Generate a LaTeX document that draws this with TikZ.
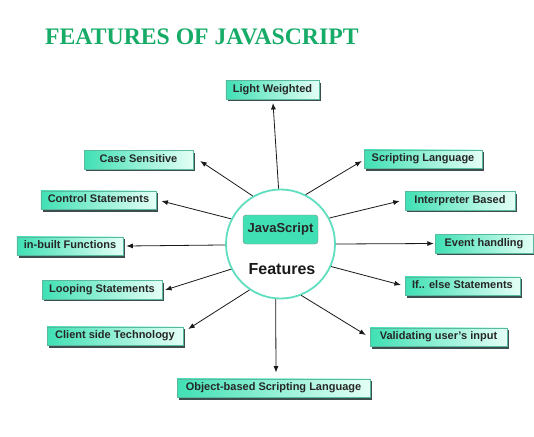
\documentclass[tikz,border=0pt]{standalone}
\usepackage{fontspec}
\setmainfont{Liberation Sans}
\newfontfamily\titlefont{Liberation Serif}
\usetikzlibrary{shadows,arrows.meta,calc}
\definecolor{jsteal}{RGB}{64,224,180}
\definecolor{jspale}{RGB}{228,255,246}
\definecolor{ringc}{RGB}{95,222,192}
\definecolor{titlegreen}{RGB}{22,172,104}
\definecolor{shadowc}{RGB}{60,78,78}
\begin{document}
\begin{tikzpicture}[x=1pt,y=-1pt,
  feat/.style={draw=jsteal!60!gray, line width=0.4pt, left color=jsteal, right color=jspale,
    font=\bfseries\fontsize{11}{13}\selectfont, text=black!85, minimum height=18.5pt,
    inner xsep=7pt, inner ysep=0pt, text height=8pt, text depth=2.3pt,
    drop shadow={shadow xshift=2.2pt, shadow yshift=-2.4pt, fill=shadowc, opacity=1}},
  arr/.style={-{Latex[length=6.5pt,width=5pt]}, line width=0.8pt, black!90}]
\useasboundingbox (0,0) rectangle (534,436);
\fill[white] (0,0) rectangle (534,436);
\node[anchor=base west, font=\titlefont\bfseries\fontsize{23.7}{27}\selectfont, text=titlegreen, inner sep=0] (title) at (45,45) {FEATURES OF JAVASCRIPT};

\node[circle, draw=ringc, line width=1.8pt, fill=white, minimum size=109pt, inner sep=0] (c) at (280.5,244) {};
\node[draw=black!45, fill=jsteal, rounded corners=3pt, minimum width=75pt, minimum height=29pt, inner sep=1pt, font=\bfseries\fontsize{13}{15}\selectfont, text=black!85] (js) at (280.5,229.5) {JavaScript};
\node[font=\bfseries\fontsize{16}{18}\selectfont, text=black!90] (ft) at (282,269) {Features};

\node[feat, minimum width=93pt] (lw) at (272.5,89.5) {Light Weighted};
\node[feat, minimum width=109pt] (cs) at (138.5,159.5) {Case Sensitive};
\node[feat, minimum width=111pt] (ctl) at (98.5,200) {Control Statements};
\node[feat, minimum width=102pt] (inb) at (70,246) {in-built Functions};
\node[feat, minimum width=116pt] (loop) at (102,289.5) {Looping Statements};
\node[feat, minimum width=136pt] (cli) at (115,336) {Client side Technology};
\node[feat, minimum width=193pt] (obj) at (273.5,388) {Object-based Scripting Language};
\node[feat, minimum width=137pt] (val) at (438.5,337) {Validating user's input};
\node[feat, minimum width=118pt] (scr) at (423,159) {Scripting Language};
\node[feat, minimum width=110pt] (intp) at (460,200.5) {Interpreter Based};
\node[feat, minimum width=98pt] (ev) at (484,243.5) {Event handling};
\node[feat, minimum width=111pt] (ifel) at (462.5,286) {If.. else Statements};

\draw[arr] (c.92) -- ($(lw.south)+(0.5,4)$);
\draw[arr] (c.120) -- ($(cs.east)+(7,1.5)$);
\draw[arr] (c.153) -- ($(ctl.east)+(5,1)$);
\draw[arr] (c.181) -- ($(inb.east)+(3,0)$);
\draw[arr] (c.207) -- ($(loop.east)+(3,0.5)$);
\draw[arr] (c.236) -- ($(cli.east)+(5,-7)$);
\draw[arr] (c.265) -- ($(obj.north)+(2.5,-6)$);
\draw[arr] (c.292) -- ($(val.west)+(-4,-2)$);
\draw[arr] (c.63) -- ($(scr.west)+(-2,2)$);
\draw[arr] (c.28) -- ($(intp.west)+(-5,0.5)$);
\draw[arr] (c.0) -- ($(ev.west)+(-1,0)$);
\draw[arr] (c.336) -- ($(ifel.west)+(-4,-1)$);
\end{tikzpicture}
\end{document}
